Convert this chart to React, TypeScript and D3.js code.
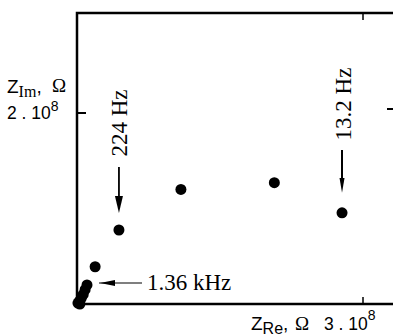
import React from 'react';
import * as d3 from 'd3';

// impedance points, units of 1e8 Ohm
const zRe = [2.78, 2.07, 1.09, 0.44, 0.19, 0.105, 0.085, 0.065, 0.045, 0.025, 0.01, 0.03];
const zIm = [0.955, 1.27, 1.2, 0.775, 0.39, 0.2, 0.15, 0.1, 0.06, 0.03, 0.01, 0.0];

const freqLabels = ['224  Hz', '13.2 Hz', '1.36 kHz'];
const labelPoint = [3, 0, 5];

const W = 393;
const H = 336;
const serif = '"Liberation Serif", "Times New Roman", serif';
const sans = '"Liberation Sans", Arial, sans-serif';

const App = () => {
  const x = d3.scaleLinear().domain([0, 3]).range([77, 363]);
  const y = d3.scaleLinear().domain([0, 2]).range([304, 113]);
  const xMax = x.invert(397);
  const yMax = y.invert(13);

  const [a224, a13, a136] = labelPoint;

  return (
    <svg width={W} height={H} style={{ position: 'absolute', left: 0, top: 0, background: '#fff' }}>
      {/* frame */}
      <rect x={x(0)} y={y(yMax)} width={x(xMax) - x(0)} height={y(0) - y(yMax)}
        fill="none" stroke="#000" strokeWidth={2.5} />
      {/* ticks */}
      <line x1={x(0)} x2={x(0) + 9} y1={y(2)} y2={y(2)} stroke="#000" strokeWidth={2} />
      <line x1={x(xMax)} x2={x(xMax) - 10} y1={y(2) - 4} y2={y(2) - 4} stroke="#000" strokeWidth={2} />
      <line x1={x(3)} x2={x(3)} y1={y(0)} y2={y(0) - 7} stroke="#000" strokeWidth={1.5} />
      <line x1={x(3)} x2={x(3)} y1={y(yMax)} y2={y(yMax) + 7} stroke="#000" strokeWidth={1.5} />

      {/* points */}
      {zRe.map((d, i) => (
        <circle key={i} cx={x(d)} cy={y(zIm[i])} r={5.5} fill="#000" />
      ))}

      {/* 224 Hz */}
      <g>
        <text transform={`translate(${x(zRe[a224]) + 8},${123}) rotate(-90)`} textAnchor="middle"
          fontFamily={serif} fontSize={23}>{freqLabels[0]}</text>
        <line x1={x(zRe[a224])} x2={x(zRe[a224])} y1={167} y2={200} stroke="#000" strokeWidth={1.8} />
        <path d={`M${x(zRe[a224]) - 4},${196} L${x(zRe[a224]) + 4},${196} L${x(zRe[a224])},${y(zIm[a224]) - 17} Z`} fill="#000" />
      </g>

      {/* 13.2 Hz */}
      <g>
        <text transform={`translate(${x(zRe[a13]) + 9},${104}) rotate(-90)`} textAnchor="middle"
          fontFamily={serif} fontSize={23}>{freqLabels[1]}</text>
        <line x1={x(zRe[a13])} x2={x(zRe[a13])} y1={150} y2={182} stroke="#000" strokeWidth={2} />
        <path d={`M${x(zRe[a13]) - 2.5},${178} L${x(zRe[a13]) + 2.5},${178} L${x(zRe[a13])},${y(zIm[a13]) - 20} Z`} fill="#000" />
      </g>

      {/* 1.36 kHz */}
      <g>
        <line x1={x(zRe[a136]) + 12} x2={142} y1={283} y2={283} stroke="#000" strokeWidth={1.2} />
        <path d={`M${x(zRe[a136]) + 13},283 L${x(zRe[a136]) + 28},280 L${x(zRe[a136]) + 28},286 Z`} fill="#000" />
        <text x={147} y={290} fontFamily={serif} fontSize={23}>{freqLabels[2]}</text>
      </g>

      {/* y label */}
      <text x={7} y={93} fontFamily={sans} fontSize={19}>
        Z<tspan fontSize={16} dy={4} fontFamily={serif}>Im</tspan>
        <tspan dy={-4}>,</tspan>
      </text>
      <text x={52} y={92} fontFamily={serif} fontSize={19}>Ω</text>
      <text x={7} y={119} fontFamily={sans} fontSize={17.5}>
        2 . 10<tspan fontSize={14} dy={-8}>8</tspan>
      </text>

      {/* x label */}
      <text x={251} y={330} fontFamily={sans} fontSize={19}>
        Z<tspan fontSize={16} dy={4}>Re</tspan>
        <tspan dy={-4}>,</tspan>
      </text>
      <text x={295} y={330} fontFamily={serif} fontSize={19}>Ω</text>
      <text x={324} y={330} fontFamily={sans} fontSize={17.5}>
        3 . 10<tspan fontSize={14} dy={-10}>8</tspan>
      </text>
    </svg>
  );
};

export default App;
